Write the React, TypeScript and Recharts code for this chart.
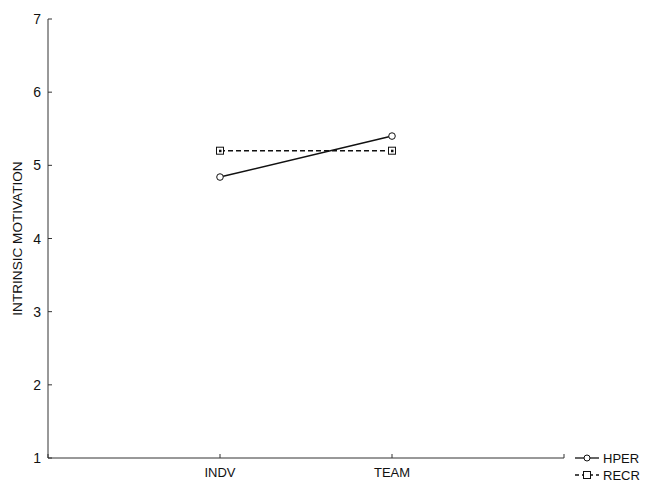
import React from "react";
import { LineChart, Line, XAxis, YAxis } from "recharts";

const categories = ["INDV", "TEAM"];
const hper = [4.84, 5.4];
const recr = [5.2, 5.2];
const yTicks = [1, 2, 3, 4, 5, 6, 7];
const seriesNames = ["HPER", "RECR"];
const yTitle = "INTRINSIC MOTIVATION";

const data = categories.map((c, i) => ({ x: i + 1, name: c, hper: hper[i], recr: recr[i] }));

const FONT = "'Liberation Sans', Arial, sans-serif";

const XTick = (props: any) => {
  const { x, y, payload } = props;
  const label = categories[payload.value - 1];
  return (
    <g>
      <line x1={x} y1={y} x2={x} y2={y - 4} stroke="#333" />
      {label && (
        <text x={x} y={y + 19} textAnchor="middle" fontSize={13} fill="#111" fontFamily={FONT}>
          {label}
        </text>
      )}
    </g>
  );
};

const YTick = (props: any) => {
  const { x, y, payload } = props;
  return (
    <g>
      <line x1={x} y1={y} x2={x + 4} y2={y} stroke="#333" />
      <text x={x - 7} y={y + 5} textAnchor="end" fontSize={14} fill="#111" fontFamily={FONT}>
        {payload.value}
      </text>
    </g>
  );
};

const YTitle = (props: any) => {
  const vb = props.viewBox || {};
  const cy = (vb.y ?? 19) + (vb.height ?? 439) / 2;
  return (
    <text
      x={22}
      y={cy}
      transform={`rotate(-90 22 ${cy})`}
      textAnchor="middle"
      fontSize={13.6}
      fontFamily={FONT}
      fill="#111"
    >
      {yTitle}
    </text>
  );
};

const CircleDot = (props: any) => {
  const { cx, cy } = props;
  return <circle cx={cx} cy={cy} r={3.3} fill="#fff" stroke="#111" strokeWidth={1} />;
};

const SquareDot = (props: any) => {
  const { cx, cy } = props;
  return (
    <g>
      <rect x={cx - 3.5} y={cy - 3.5} width={7} height={7} fill="#fff" stroke="#111" strokeWidth={1} />
      <rect x={cx - 1} y={cy - 1} width={2.5} height={2.5} fill="#111" />
    </g>
  );
};

const LegendBox = () => (
  <svg width={72} height={34} style={{ position: "absolute", left: 573, top: 449 }}>
    <line x1={2} y1={9} x2={26} y2={9} stroke="#111" strokeWidth={1.3} />
    <circle cx={14} cy={9} r={3} fill="#fff" stroke="#111" />
    <text x={30} y={13.5} fontSize={13} fontFamily={FONT} fill="#111">{seriesNames[0]}</text>
    <line x1={2} y1={26} x2={26} y2={26} stroke="#111" strokeWidth={1.3} strokeDasharray="4 3" />
    <rect x={10.5} y={22.5} width={7} height={7} fill="#fff" stroke="#111" />
    <text x={30} y={30.5} fontSize={13} fontFamily={FONT} fill="#111">{seriesNames[1]}</text>
  </svg>
);

export default function App() {
  return (
    <div style={{ position: "absolute", left: 0, top: 0, width: 645, height: 482, background: "#fff" }}>
      <LineChart width={645} height={482} data={data} margin={{ top: 19, right: 81, bottom: 0, left: 0 }}>
        <XAxis
          dataKey="x"
          type="number"
          domain={[0, 3]}
          ticks={[0, 1, 2, 3]}
          height={24}
          tickSize={0}
          tickMargin={0}
          tickLine={false}
          tick={<XTick />}
          axisLine={{ stroke: "#333" }}
        />
        <YAxis
          type="number"
          domain={[1, 7]}
          ticks={yTicks}
          width={48}
          tickSize={0}
          tickMargin={0}
          tickLine={false}
          tick={<YTick />}
          axisLine={{ stroke: "#333" }}
          label={<YTitle />}
        />
        <Line
          dataKey="hper"
          name={seriesNames[0]}
          stroke="#111"
          strokeWidth={1.5}
          dot={<CircleDot />}
          isAnimationActive={false}
        />
        <Line
          dataKey="recr"
          name={seriesNames[1]}
          stroke="#111"
          strokeWidth={1.5}
          strokeDasharray="5 3"
          dot={<SquareDot />}
          isAnimationActive={false}
        />
      </LineChart>
      <LegendBox />
    </div>
  );
}
